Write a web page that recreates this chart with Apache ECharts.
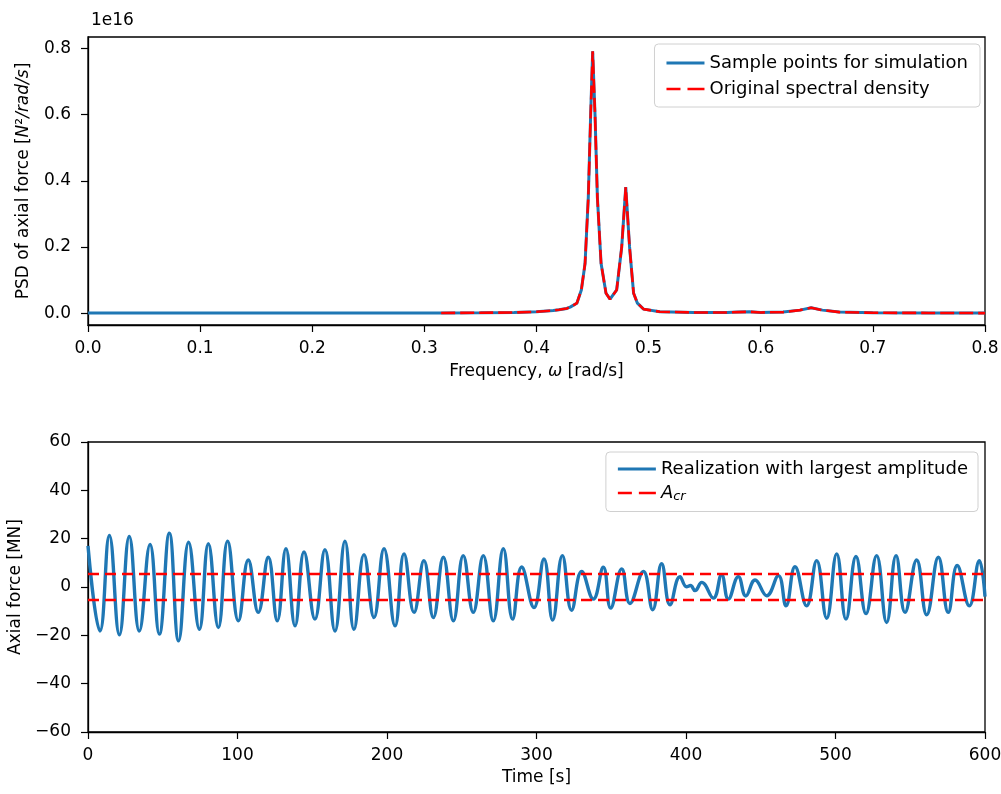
<!DOCTYPE html>
<html>
<head>
<meta charset="utf-8">
<script src="https://cdn.jsdelivr.net/npm/echarts@6/dist/echarts.min.js"></script>
<style>
html,body{margin:0;padding:0;background:#fff;}
#c{width:1001px;height:794px;}
</style>
</head>
<body>
<div id="c"></div>
<script>
// ---- Top panel: PSD (units of 1e16 N^2/rad/s) ----
var freq = [0, 0.1, 0.2, 0.3, 0.315, 0.35, 0.38, 0.4, 0.415, 0.42, 0.427, 0.43, 0.436, 0.44, 0.4433, 0.4462, 0.4483, 0.4501, 0.4522, 0.4543, 0.4576, 0.462, 0.4656, 0.4715, 0.476, 0.4796, 0.483, 0.4866, 0.49, 0.4955, 0.51, 0.54, 0.57, 0.58, 0.59, 0.60, 0.62, 0.635, 0.645, 0.655, 0.67, 0.7, 0.75, 0.8];
var psd  = [0, 0, 0, 0, 0.0005, 0.001, 0.002, 0.004, 0.008, 0.01, 0.014, 0.018, 0.03, 0.07, 0.15, 0.35, 0.6, 0.792, 0.6, 0.35, 0.15, 0.06, 0.042, 0.07, 0.2, 0.381, 0.2, 0.06, 0.03, 0.012, 0.004, 0.002, 0.002, 0.003, 0.004, 0.002, 0.003, 0.009, 0.016, 0.009, 0.003, 0.001, 0.0005, 0];
var redStartFreq = 0.315;
var psdTicks = [0, 0.2, 0.4, 0.6, 0.8];

// ---- Bottom panel: realization (local extrema) ----
var time  = [0, 8, 14.3, 21, 27.6, 34.3, 41.5, 47.7, 54.4, 60.6, 67.3, 74.5, 80.5, 87.2, 93.4, 100.6, 107.2, 113.9, 120.6, 126.6, 132.4, 138.5, 144.5, 151.8, 158.5, 165.2, 171.9, 177.9, 184.6, 191.3, 198, 205.4, 211.4, 218.1, 224.7, 231, 237.7, 244.4, 251, 257.7, 264.4, 271.1, 277.8, 284, 290.1, 298.3, 305, 310.8, 317.3, 323.5, 330.2, 338, 344.7, 349.6, 357, 362.5, 371.5, 377.7, 383.7, 389.3, 396, 400.4, 403, 406, 410.5, 418.3, 423.8, 428.3, 435, 440, 446.2, 454, 461.8, 466.9, 472.9, 480.7, 487.4, 494.1, 500.8, 507, 513.7, 520.4, 527.5, 534.2, 540.5, 546.5, 554.3, 561, 568.8, 575.4, 581.4, 589.5, 596.2, 600];
var force = [17, -18.2, 21.3, -19.8, 20.9, -18.2, 17.6, -19.5, 22.3, -22.3, 18.5, -17.5, 17.9, -16.8, 19.0, -14, 11.2, -10.5, 12.3, -14, 15.8, -16.1, 14.5, -13.3, 15.4, -18.2, 19.0, -17.5, 13.4, -12.6, 15.8, -16.1, 13.7, -10.5, 10.9, -12.6, 12.3, -14, 13, -10.5, 13, -14, 15.8, -13.3, 8.3, -8.5, 11.6, -13.7, 13, -9.6, 6.4, -5, 8.2, -8.7, 7.5, -6.8, 6.4, -9.4, 9.6, -7.4, 4.3, 0.1, 0.6, -1.5, 1.9, -4.6, 5.1, -5, 4.3, -3.7, 2.9, -3.6, 4.7, -7.8, 8.4, -7.8, 10.9, -12.9, 13.7, -13.3, 12.6, -11, 13, -14.7, 13, -10.5, 11.2, -11.5, 12.3, -10.5, 8.9, -7.8, 10.9, -4];
var acr = 5.4;
var timeRange = [0, 600];

var FONT = 'DejaVu Sans';
var BLUE = '#1f77b4';
var RED = '#ff0000';
var TICK_FS = 17, NAME_FS = 17, LEG_FS = 18;

var psdData = freq.map(function (f, i) { return [f, psd[i]]; });
var psdRed = psdData.filter(function (p) { return p[0] >= redStartFreq; });
var forceData = time.map(function (t, i) { return [t, force[i]]; });

var chart = echarts.init(document.getElementById('c'), null, {renderer: 'canvas'});

function baseAxis(extra) {
  var a = {
    axisLine: {show: true, onZero: false, lineStyle: {color: '#000', width: 1.3}},
    axisTick: {show: true, inside: false, length: 7, lineStyle: {color: '#000', width: 1.2}},
    splitLine: {show: false}
  };
  for (var k in extra) a[k] = extra[k];
  return a;
}
var lineIcon = 'path://M0,0h38v3h-38z';
var dashIcon = 'path://M0,0h14v2.6h-14z M21,0h17v2.6h-17z';

var legendCommon = {
  orient: 'vertical',
  itemWidth: 38, itemHeight: 16,
  borderColor: '#d0d0d0', borderWidth: 1, borderRadius: 4,
  backgroundColor: 'rgba(255,255,255,0.85)',
  textStyle: {fontFamily: FONT, fontSize: LEG_FS, color: '#000', lineHeight: 18}
};
function leg(extra) { var o = {}; for (var k in legendCommon) o[k] = legendCommon[k]; for (var j in extra) o[j] = extra[j]; return o; }

var option = {
  animation: false,
  backgroundColor: '#fff',
  textStyle: {fontFamily: FONT},
  title: {text: '1e16', left: 86, top: 7, textStyle: {fontFamily: FONT, fontSize: TICK_FS, fontWeight: 'normal', color: '#000'}},
  grid: [
    {left: 88, top: 37, width: 897, height: 288, show: true, borderColor: '#000', borderWidth: 1.3, backgroundColor: 'transparent', containLabel: false, outerBoundsMode: 'none'},
    {left: 88, top: 442, width: 897, height: 290, show: true, borderColor: '#000', borderWidth: 1.3, backgroundColor: 'transparent', containLabel: false, outerBoundsMode: 'none'}
  ],
  legend: [
    leg({
      data: [{name: 'Sample points for simulation', icon: lineIcon}, {name: 'Original spectral density', icon: dashIcon}],
      right: 21, top: 44, itemGap: 8, padding: [10, 12, 9, 12]
    }),
    leg({
      data: [{name: 'Realization with largest amplitude', icon: lineIcon}, {name: 'A_cr', icon: dashIcon}],
      right: 23, top: 452, itemGap: 6, padding: [8, 10, 8, 12],
      formatter: function (n) { return n === 'A_cr' ? '{i|A}{s|cr}' : n; },
      textStyle: {fontFamily: FONT, fontSize: LEG_FS, color: '#000', lineHeight: 18,
        rich: {
          i: {fontFamily: FONT, fontSize: LEG_FS, fontStyle: 'italic', color: '#000'},
          s: {fontFamily: FONT, fontSize: 13, fontStyle: 'italic', color: '#000', padding: [8, 0, 0, 0]}
        }}
    })
  ],
  xAxis: [
    baseAxis({gridIndex: 0, type: 'value', min: 0, max: 0.8, interval: 0.1,
      name: '{n|Frequency, }{i|ω}{n| [rad/s]}', nameLocation: 'middle', nameGap: 38,
      nameTextStyle: {rich: {n: {fontFamily: FONT, fontSize: NAME_FS, color: '#000'}, i: {fontFamily: FONT, fontSize: NAME_FS, fontStyle: 'italic', color: '#000'}}},
      axisLabel: {color: '#000', fontFamily: FONT, fontSize: TICK_FS, margin: 15, formatter: function (v) { return v.toFixed(1); }}
    }),
    baseAxis({gridIndex: 1, type: 'value', min: timeRange[0], max: timeRange[1], interval: 100,
      name: 'Time [s]', nameLocation: 'middle', nameGap: 37,
      nameTextStyle: {fontFamily: FONT, fontSize: NAME_FS, color: '#000'},
      axisLabel: {color: '#000', fontFamily: FONT, fontSize: TICK_FS, margin: 15}
    })
  ],
  yAxis: [
    baseAxis({gridIndex: 0, type: 'value', min: -0.036, max: 0.835,
      name: '{n|PSD of axial force [}{i|N}{n|²}{i|/rad/s}{n|]}', nameLocation: 'middle', nameGap: 56, nameRotate: 90,
      nameTextStyle: {rich: {n: {fontFamily: FONT, fontSize: NAME_FS, color: '#000'}, i: {fontFamily: FONT, fontSize: NAME_FS, fontStyle: 'italic', color: '#000'}}},
      axisTick: {show: true, inside: false, length: 7, lineStyle: {color: '#000', width: 1.2}, customValues: psdTicks},
      axisLabel: {color: '#000', fontFamily: FONT, fontSize: TICK_FS, margin: 17, customValues: psdTicks, formatter: function (v) { return v.toFixed(1); }}
    }),
    baseAxis({gridIndex: 1, type: 'value', min: -60, max: 60, interval: 20,
      name: 'Axial force [MN]', nameLocation: 'middle', nameGap: 62, nameRotate: 90,
      nameTextStyle: {fontFamily: FONT, fontSize: NAME_FS, color: '#000'},
      axisLabel: {color: '#000', fontFamily: FONT, fontSize: TICK_FS, margin: 17, formatter: function (v) { return v < 0 ? '\u2212' + Math.abs(v) : '' + v; }}
    })
  ],
  series: [
    {name: 'Sample points for simulation', type: 'line', xAxisIndex: 0, yAxisIndex: 0, data: psdData,
      symbol: 'none', smooth: false, lineStyle: {color: BLUE, width: 3}, itemStyle: {color: BLUE}, z: 2},
    {name: 'Original spectral density', type: 'line', xAxisIndex: 0, yAxisIndex: 0, data: psdRed,
      symbol: 'none', smooth: false, lineStyle: {color: RED, width: 2.6, type: [14, 5]}, itemStyle: {color: RED}, z: 3},
    {name: 'Realization with largest amplitude', type: 'line', xAxisIndex: 1, yAxisIndex: 1, data: forceData,
      symbol: 'none', smooth: 0.45, lineStyle: {color: BLUE, width: 3.4}, itemStyle: {color: BLUE}, z: 2},
    {name: 'A_cr', type: 'line', xAxisIndex: 1, yAxisIndex: 1, data: [[timeRange[0], acr], [timeRange[1], acr]],
      symbol: 'none', lineStyle: {color: RED, width: 2.6, type: [11, 6]}, itemStyle: {color: RED}, z: 3},
    {name: 'A_cr', type: 'line', xAxisIndex: 1, yAxisIndex: 1, data: [[timeRange[0], -acr], [timeRange[1], -acr]],
      symbol: 'none', lineStyle: {color: RED, width: 2.6, type: [11, 6]}, itemStyle: {color: RED}, z: 3}
  ]
};
chart.setOption(option);
</script>
</body>
</html>
